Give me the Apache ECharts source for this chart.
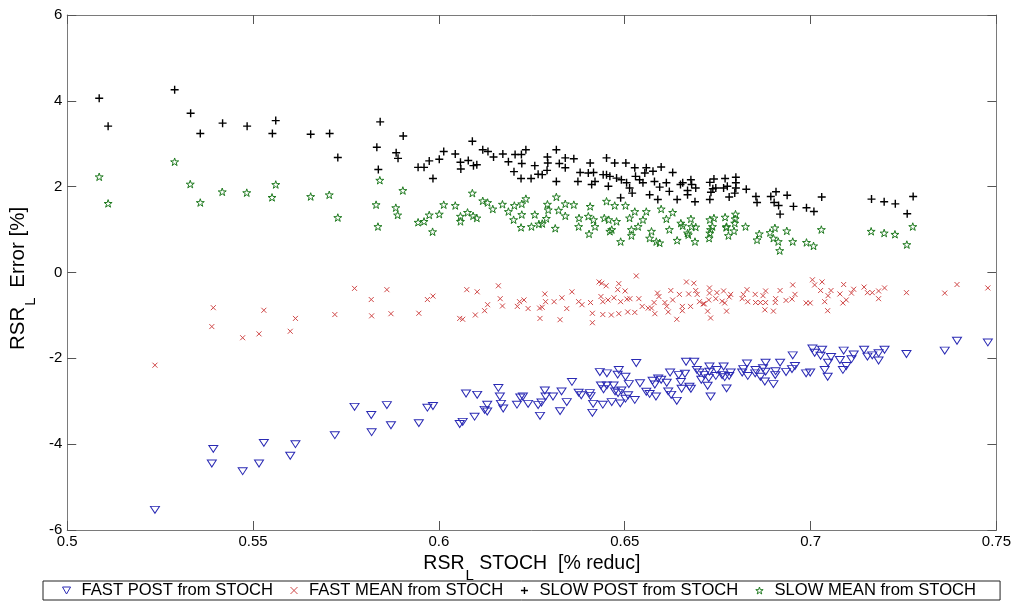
<!DOCTYPE html>
<html>
<head>
<meta charset="utf-8">
<script src="https://cdn.jsdelivr.net/npm/echarts@6/dist/echarts.min.js"></script>
<style>
  html, body { margin: 0; padding: 0; background: #fff; }
  #chart { width: 1014px; height: 603px; }
</style>
</head>
<body>
<div id="chart"></div>
<script>
// [x, y] pairs
var fastPost = [
  [0.5236,-5.53],[0.5393,-4.11],[0.5389,-4.45],[0.5472,-4.63],[0.5516,-4.45],[0.5529,-3.97],[0.56,-4.27],[0.5614,-4.00],
  [0.572,-3.79],[0.5773,-3.13],[0.5818,-3.32],[0.5819,-3.72],[0.586,-3.09],[0.5871,-3.56],[0.5946,-3.51],[0.5969,-3.15],
  [0.5984,-3.11],[0.6056,-3.53],[0.6064,-3.48],[0.6073,-2.82],[0.6096,-3.36],[0.6103,-2.85],[0.6123,-3.20],[0.613,-3.24],
  [0.613,-3.08],[0.616,-2.69],[0.6164,-2.89],[0.6167,-3.06],[0.6173,-3.17],[0.621,-3.08],[0.6219,-2.91],[0.6226,-2.89],
  [0.624,-3.06],[0.6267,-3.09],[0.6272,-3.34],[0.6276,-3.03],[0.6285,-2.75],[0.6287,-2.89],[0.6307,-2.89],[0.6326,-3.23],
  [0.633,-2.77],[0.6344,-3.02],[0.6358,-2.55],[0.6376,-2.80],[0.6383,-2.86],[0.6406,-2.81],[0.6408,-2.88],[0.6413,-3.27],
  [0.6415,-3.06],[0.6433,-2.32],[0.6436,-2.63],[0.6441,-3.08],[0.6443,-2.72],[0.6452,-2.35],[0.6452,-2.63],[0.6465,-3.02],
  [0.647,-2.63],[0.6474,-2.77],[0.6481,-2.38],[0.6484,-2.27],[0.6482,-2.81],[0.6488,-3.05],[0.6491,-2.75],[0.6502,-2.43],
  [0.6502,-2.94],[0.6511,-2.60],[0.6509,-2.86],[0.6527,-2.97],[0.6531,-2.11],[0.6541,-2.58],[0.6558,-2.78],[0.6567,-2.83],
  [0.6575,-2.52],[0.6581,-2.61],[0.6584,-2.89],[0.659,-2.47],[0.6598,-2.50],[0.6613,-2.57],[0.6617,-2.77],[0.6622,-2.33],
  [0.6625,-2.85],[0.664,-2.99],[0.6645,-2.39],[0.6651,-2.55],[0.6653,-2.71],[0.6662,-2.36],[0.6665,-2.08],[0.6674,-2.66],
  [0.6678,-2.71],[0.6687,-2.08],[0.6694,-2.27],[0.6701,-2.33],[0.6706,-2.50],
  [0.6714,-2.39],[0.6723,-2.64],[0.6726,-2.46],[0.6728,-2.19],[0.6728,-2.31],[0.6731,-2.89],[0.6745,-2.41],[0.6748,-2.27],
  [0.6762,-2.39],[0.6766,-2.19],[0.6769,-2.44],[0.6774,-2.70],[0.6781,-2.41],[0.6785,-2.33],[0.6816,-2.33],[0.6819,-2.25],
  [0.6829,-2.12],[0.6831,-2.41],[0.6851,-2.35],[0.6852,-2.27],[0.6865,-2.43],[0.6872,-2.23],[0.6877,-2.54],[0.6879,-2.10],
  [0.6879,-2.31],[0.69,-2.60],[0.6905,-2.39],[0.6906,-2.30],[0.6918,-2.10],[0.6934,-2.32],[0.695,-2.25],[0.6952,-1.93],
  [0.6958,-2.18],[0.6988,-2.35],[0.6999,-2.33],[0.7005,-1.77],[0.7011,-1.87],[0.7027,-1.94],[0.7031,-1.80],[0.7038,-2.27],
  [0.7046,-2.43],[0.7047,-2.10],[0.7055,-1.97],[0.7079,-2.04],[0.7087,-2.27],[0.7089,-1.82],[0.7096,-2.18],[0.711,-2.02],
  [0.7116,-1.91],[0.7144,-1.80],[0.7153,-1.96],[0.7166,-1.93],[0.7183,-1.88],[0.7183,-2.05],[0.7199,-1.80],[0.7258,-1.90],
  [0.7361,-1.82],[0.7394,-1.59],[0.7477,-1.63]
];

var fastMean = [
  [0.5236,-2.16],[0.5393,-0.82],[0.5389,-1.26],[0.5472,-1.52],[0.5516,-1.43],[0.5529,-0.88],[0.56,-1.37],[0.5614,-1.07],
  [0.572,-0.98],[0.5773,-0.37],[0.5818,-0.63],[0.5819,-1.01],[0.586,-0.40],[0.5871,-0.96],[0.5946,-0.95],[0.5969,-0.63],
  [0.5984,-0.55],[0.6056,-1.07],[0.6064,-1.09],[0.6075,-0.40],[0.6098,-0.99],[0.6103,-0.45],[0.6123,-0.89],[0.6131,-0.75],
  [0.616,-0.31],[0.6165,-0.61],[0.6171,-0.78],[0.6211,-0.79],[0.6217,-0.68],[0.6229,-0.64],[0.624,-0.84],[0.6271,-0.83],
  [0.6272,-1.07],[0.6278,-0.81],[0.6285,-0.50],[0.6287,-0.68],[0.631,-0.68],[0.6326,-1.10],[0.6331,-0.59],[0.6344,-0.84],
  [0.6358,-0.45],[0.6376,-0.68],[0.6385,-0.75],[0.6408,-0.70],[0.6413,-0.95],[0.6413,-1.17],[0.6431,-0.22],[0.6438,-0.25],
  [0.6436,-0.56],[0.6441,-0.68],[0.6441,-0.98],[0.645,-0.31],[0.6455,-0.64],[0.6464,-0.99],[0.6471,-0.59],[0.6481,-0.40],
  [0.6484,-0.26],[0.6484,-0.96],[0.6489,-0.68],[0.6501,-0.43],[0.6506,-0.62],[0.6508,-0.92],[0.6514,-0.61],[0.6527,-0.93],
  [0.6531,-0.08],[0.6538,-0.61],[0.6547,-0.79],[0.6563,-0.83],[0.6572,-0.83],[0.6579,-0.70],[0.6581,-0.96],[0.6588,-0.48],
  [0.6592,-0.56],[0.6608,-0.70],[0.6613,-0.79],[0.6617,-0.92],[0.6624,-0.42],[0.6629,-0.64],[0.664,-1.09],[0.6647,-0.51],
  [0.6655,-0.79],[0.6655,-0.89],[0.6666,-0.22],[0.6672,-0.50],[0.6677,-0.79],[0.6686,-0.25],[0.6691,-0.42],[0.6695,-0.51],
  [0.6701,-0.68],[0.6711,-0.73],
  [0.6714,-0.73],[0.6723,-0.90],[0.6726,-0.64],[0.6728,-0.36],[0.6728,-0.48],[0.6731,-1.06],[0.6745,-0.61],[0.6748,-0.47],
  [0.6762,-0.67],[0.6766,-0.43],[0.6769,-0.71],[0.6774,-0.90],[0.6781,-0.57],[0.6785,-0.51],[0.6816,-0.61],[0.6819,-0.51],
  [0.6829,-0.40],[0.6831,-0.68],[0.6851,-0.51],[0.6852,-0.70],[0.6865,-0.70],[0.6872,-0.54],[0.6877,-0.87],[0.6879,-0.43],
  [0.6879,-0.70],[0.69,-0.90],[0.6905,-0.70],[0.6906,-0.61],[0.6918,-0.42],[0.6934,-0.65],[0.695,-0.62],[0.6952,-0.29],
  [0.6958,-0.51],[0.6988,-0.71],[0.6999,-0.71],[0.7005,-0.17],[0.7011,-0.29],[0.7027,-0.42],[0.7031,-0.22],[0.7038,-0.68],
  [0.7046,-0.89],[0.7047,-0.54],[0.7055,-0.42],[0.7079,-0.50],[0.7087,-0.71],[0.7089,-0.28],[0.7096,-0.64],[0.711,-0.48],
  [0.7116,-0.39],[0.7144,-0.34],[0.7153,-0.47],[0.7166,-0.47],[0.7183,-0.43],[0.7183,-0.61],[0.7199,-0.36],[0.7258,-0.47],
  [0.7361,-0.48],[0.7394,-0.28],[0.7477,-0.36]
];

var slowPost = [
  [0.5086,4.06],[0.511,3.41],[0.5289,4.26],[0.5332,3.71],[0.5358,3.24],[0.5418,3.48],[0.5484,3.41],[0.5561,3.54],
  [0.5552,3.24],[0.5655,3.22],[0.5706,3.24],[0.5728,2.68],[0.5842,3.51],[0.5833,2.92],[0.5837,2.40],[0.5885,2.79],
  [0.589,2.66],[0.5904,3.18],[0.5944,2.45],[0.596,2.45],[0.5974,2.60],[0.5984,2.19],[0.6001,2.64],[0.6013,2.82],
  [0.6044,2.76],[0.6058,2.57],[0.6059,2.41],[0.6079,2.61],[0.609,3.06],[0.6093,2.49],[0.6102,2.51],[0.6118,2.86],
  [0.6132,2.82],[0.6147,2.69],[0.6172,2.76],[0.6187,2.58],[0.6205,2.75],[0.6222,2.75],[0.6223,2.54],[0.6234,2.86],
  [0.6202,2.35],[0.6221,2.19],[0.6248,2.19],[0.6258,2.49],[0.6267,2.29],[0.6278,2.28],[0.6292,2.69],[0.6293,2.55],
  [0.6291,2.38],[0.6316,2.86],[0.6316,2.12],[0.6324,2.54],
  [0.634,2.67],[0.6363,2.65],[0.634,2.44],[0.638,2.33],[0.6374,2.12],[0.6407,2.55],[0.6402,2.32],[0.6416,2.33],
  [0.642,2.12],[0.6411,2.05],[0.6451,2.67],[0.6442,2.28],[0.6451,2.28],[0.646,2.24],[0.6456,2.01],[0.6473,2.55],
  [0.6478,2.20],[0.6491,2.16],[0.6489,1.74],[0.6503,2.55],[0.6505,2.09],[0.6513,1.97],[0.652,1.85],[0.6527,2.44],
  [0.6529,2.24],[0.654,2.16],[0.6554,2.32],[0.6558,2.44],[0.6549,2.09],[0.6567,1.81],[0.6576,2.36],[0.658,2.12],
  [0.6589,1.70],[0.6598,2.46],[0.6594,1.99],[0.6612,2.09],[0.662,1.89],[0.6629,2.33],[0.6641,1.70],[0.665,2.05],
  [0.6656,2.09],[0.6669,1.91],[0.6678,2.16],[0.6689,1.65],[0.6691,1.97],[0.668,2.05],[0.6669,1.81],[0.6729,1.70],
  [0.6732,1.87],[0.6737,1.95],[0.6729,2.10],[0.674,2.18],[0.6745,1.97],[0.6766,1.97],[0.6776,2.01],[0.677,2.19],
  [0.6781,1.76],[0.6796,1.85],[0.6799,1.97],[0.6799,2.09],[0.6799,2.22],[0.6827,1.94],[0.6856,1.63],[0.6853,1.77],
  [0.6914,1.56],[0.6902,1.63],[0.6893,1.77],[0.6907,1.88],[0.6937,1.80],[0.6918,1.36],[0.6954,1.54],[0.6989,1.51],
  [0.7009,1.42],[0.703,1.76],[0.7164,1.71],[0.7198,1.65],[0.7228,1.60],[0.726,1.37],[0.7276,1.77]
];

var slowMean = [
  [0.5086,2.23],[0.511,1.61],[0.5289,2.58],[0.5331,2.06],[0.5358,1.63],[0.5417,1.88],[0.5483,1.86],[0.5561,2.05],
  [0.5551,1.75],[0.5655,1.77],[0.5705,1.81],[0.5728,1.28],[0.5841,2.15],[0.5831,1.58],[0.5836,1.07],[0.5884,1.51],
  [0.5889,1.34],[0.5903,1.91],[0.5944,1.17],[0.596,1.19],[0.5974,1.34],[0.5983,0.95],[0.6001,1.36],[0.6013,1.58],
  [0.6044,1.56],[0.6058,1.31],[0.6058,1.19],[0.6077,1.40],[0.609,1.85],[0.6092,1.32],[0.6102,1.27],[0.6118,1.67],
  [0.6131,1.63],[0.6145,1.48],[0.6171,1.59],[0.6187,1.42],[0.6203,1.56],[0.6223,1.60],[0.6223,1.35],[0.6234,1.72],
  [0.6201,1.23],[0.6221,1.05],[0.6249,1.07],[0.6258,1.35],[0.6269,1.13],[0.6278,1.14],[0.6292,1.59],[0.6294,1.46],
  [0.6289,1.26],[0.6316,1.76],[0.6313,1.03],[0.6322,1.45],
  [0.634,1.60],[0.6363,1.58],[0.634,1.32],[0.6377,1.27],[0.6376,1.07],[0.6407,1.54],[0.6402,1.31],[0.6416,1.23],
  [0.642,1.07],[0.6404,0.90],[0.6451,1.66],[0.6445,1.27],[0.6457,1.23],[0.6465,1.00],[0.646,0.96],[0.6473,1.56],
  [0.6478,1.19],[0.6489,0.72],[0.6502,1.56],[0.6513,1.27],[0.6518,1.00],[0.6518,0.86],[0.6527,1.42],[0.6536,1.07],
  [0.6549,1.23],[0.6558,1.42],[0.6572,0.96],[0.6567,0.80],[0.6585,0.72],[0.6594,0.69],[0.6598,1.48],[0.6612,1.25],
  [0.662,1.00],[0.6629,1.40],[0.6641,0.75],[0.6651,1.15],
  [0.6656,1.09],[0.6669,0.92],[0.6678,1.25],[0.6689,0.72],[0.6691,1.06],[0.668,1.07],[0.6671,0.88],[0.6727,0.80],
  [0.6729,0.92],[0.6736,1.07],[0.6729,1.23],[0.674,1.27],[0.6731,1.00],[0.6774,1.07],[0.6773,1.05],[0.677,1.29],
  [0.6779,0.86],[0.6794,0.97],[0.6796,1.15],[0.6797,1.25],[0.6798,1.36],[0.6825,1.07],[0.6856,0.76],[0.6862,0.90],
  [0.6913,0.72],[0.69,0.80],[0.6891,0.93],[0.6904,1.04],[0.6936,0.97],[0.6917,0.51],[0.6952,0.72],[0.6989,0.70],
  [0.7008,0.62],[0.7029,1.00],[0.7163,0.96],[0.7198,0.92],[0.7227,0.89],[0.7259,0.65],[0.7275,1.07]
];

var seriesNames = ['FAST POST from STOCH', 'FAST MEAN from STOCH', 'SLOW POST from STOCH', 'SLOW MEAN from STOCH'];
var xTicks = { min: 0.5, max: 0.75, step: 0.05 };
var yTicks = { min: -6, max: 6, step: 2 };

var FONT = '"Liberation Sans", Arial, Helvetica, sans-serif';
var triDown = 'path://M0,0L10,0L5,8.66Z';
var cross = 'path://M0,0L10,10M10,0L0,10';
var plus = 'path://M0,5L10,5M5,0L5,10';
var star = 'path://M10,0L12.245,6.91L19.511,6.91L13.633,11.18L15.878,18.09L10,13.82L4.122,18.09L6.367,11.18L0.489,6.91L7.755,6.91Z';

var marks = [
  { symbol: triDown, size: [9, 8], color: '#2a2ab4', bw: 1, data: fastPost },
  { symbol: cross, size: 5, color: '#d04848', bw: 1, data: fastMean },
  { symbol: plus, size: 8, color: '#000000', bw: 1.4, data: slowPost },
  { symbol: star, size: 8, color: '#1f7a1f', bw: 1, data: slowMean }
];

var chart = echarts.init(document.getElementById('chart'), null, { renderer: 'canvas' });

var axisLineStyle = { color: '#7a7a7a', width: 1 };
var tickStyle = { color: '#555', width: 1 };

var titleRich = {
  a: { fontSize: 19.5, fontFamily: FONT, color: '#000', verticalAlign: 'top' },
  s: { fontSize: 15, fontFamily: FONT, color: '#000', verticalAlign: 'top', padding: [14, 0, 0, 1] }
};
var yTitleRich = {
  a: { fontSize: 20.5, fontFamily: FONT, color: '#000', verticalAlign: 'top' },
  s: { fontSize: 15, fontFamily: FONT, color: '#000', verticalAlign: 'top', padding: [15, 4, 0, 1] }
};

function frameAxis(extra) {
  var base = {
    type: 'value',
    axisLine: { show: true, onZero: false, lineStyle: axisLineStyle },
    axisTick: { show: true, inside: true, length: 9, lineStyle: tickStyle },
    splitLine: { show: false }
  };
  return Object.assign(base, extra);
}

chart.setOption({
  animation: false,
  backgroundColor: '#fff',
  grid: { left: 61, right: 16, top: 15, bottom: 73 },
  legend: {
    data: seriesNames.map(function (n, i) {
      return { name: n, icon: marks[i].symbol,
        itemStyle: { color: 'rgba(0,0,0,0)', borderColor: marks[i].color, borderWidth: marks[i].bw } };
    }),
    left: 43,
    top: 581,
    orient: 'horizontal',
    itemWidth: 20,
    itemHeight: 7,
    itemGap: 17,
    padding: [1, 24, 1, 19],
    borderColor: '#222',
    borderWidth: 1,
    backgroundColor: '#fff',
    textStyle: { fontSize: 16.6, fontFamily: FONT, color: '#000' }
  },
  xAxis: [frameAxis({
    position: 'bottom',
    min: xTicks.min, max: xTicks.max, interval: xTicks.step,
    name: '{a|RSR}{s|L}{a| STOCH  [% reduc]}',
    nameLocation: 'middle',
    nameGap: 15,
    nameTextStyle: { rich: titleRich },
    axisLabel: { color: '#000', fontSize: 15, fontFamily: FONT, margin: 4,
      formatter: function (v) { return String(+v.toFixed(2)); } }
  }), frameAxis({
    position: 'top',
    min: xTicks.min, max: xTicks.max, interval: xTicks.step,
    axisLabel: { show: false }
  })],
  yAxis: [frameAxis({
    position: 'left',
    min: yTicks.min, max: yTicks.max, interval: yTicks.step,
    name: '{a|RSR}{s|L}{a| Error [%]}',
    nameLocation: 'middle',
    nameGap: 17,
    nameTextStyle: { rich: yTitleRich, padding: [0, 12, 0, 0] },
    axisLabel: { color: '#000', fontSize: 15, fontFamily: FONT, margin: 5 }
  }), frameAxis({
    position: 'right',
    min: yTicks.min, max: yTicks.max, interval: yTicks.step,
    axisLabel: { show: false }
  })],
  series: marks.map(function (m, i) {
    return {
      name: seriesNames[i],
      type: 'scatter',
      data: m.data,
      symbol: m.symbol,
      symbolSize: m.size,
      symbolKeepAspect: true,
      itemStyle: { color: 'rgba(0,0,0,0)', borderColor: m.color, borderWidth: m.bw, opacity: 1 },
      emphasis: { disabled: true }
    };
  })
});
</script>
</body>
</html>
